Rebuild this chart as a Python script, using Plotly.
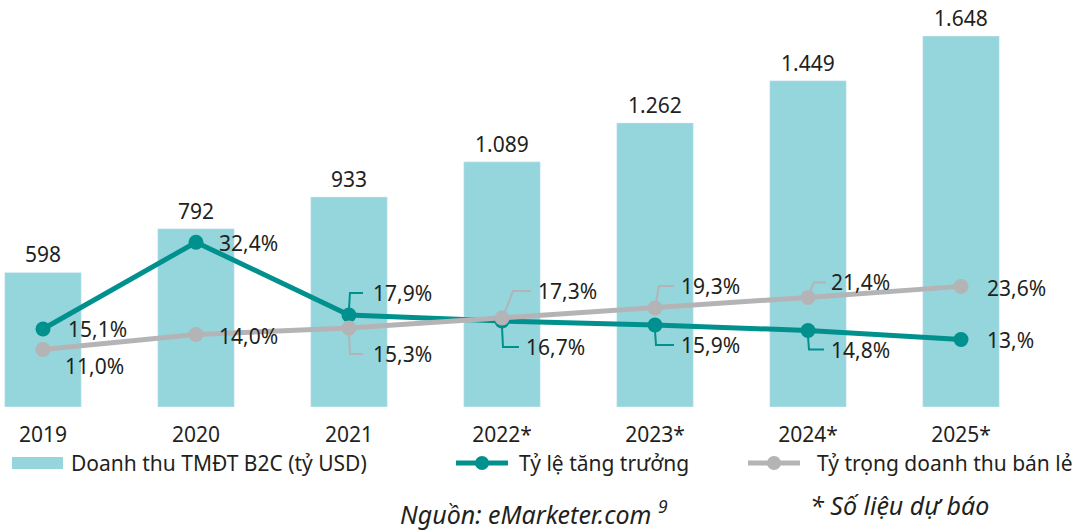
import plotly.graph_objects as go

# ---------------- data ----------------
years = ["2019", "2020", "2021", "2022*", "2023*", "2024*", "2025*"]
revenue = [598, 792, 933, 1089, 1262, 1449, 1648]          # Doanh thu TMĐT B2C (tỷ USD)
growth = [15.1, 32.4, 17.9, 16.7, 15.9, 14.8, 13.0]        # Tỷ lệ tăng trưởng (%)
growth_labels = ["15,1%", "32,4%", "17,9%", "16,7%", "15,9%", "14,8%", "13,%"]
share = [11.0, 14.0, 15.3, 17.3, 19.3, 21.4, 23.6]         # Tỷ trọng doanh thu bán lẻ (%)
share_labels = ["11,0%", "14,0%", "15,3%", "17,3%", "19,3%", "21,4%", "23,6%"]

series_names = ["Doanh thu TMĐT B2C (tỷ USD)", "Tỷ lệ tăng trưởng", "Tỷ trọng doanh thu bán lẻ"]

# ---------------- style ----------------
W, H = 1086, 530
T, B = 36, 123
PLOT_H = H - T - B
BAR_C = "#95d5dc"
TEAL = "#00918e"
GRAY = "#b4b4b7"
TXT = "#231f20"
FONT = "Noto Sans"
LBL = 21

# label offsets in pixels (dx, dy up-positive) and leader paths (pixels, relative to the marker)
growth_off = [(23, 0), (21, -1), (22, 22), (22, -26), (24, -20), (21, -19), (24, 0)]
growth_lead = [None, None, "M 0,6 L 1,22 L 14,22", "M 0,-6 L 1,-26 L 17,-26",
               "M 0,-6 L 1,-20 L 19,-20", "M 0,-6 L 1,-19 L 16,-19", None]
share_off = [(20, -16), (21, -1), (22, -26), (34, 27), (24, 22), (21, 15), (24, -2)]
share_lead = [None, None, "M 0,-6 L 1,-26 L 14,-26", "M 3,6 L 11,27 L 29,27",
              "M 1,6 L 4,22 L 19,22", "M 2,6 L 6,15 L 18,15", None]

xs = list(range(len(years)))

fig = go.Figure()
fig.add_trace(go.Bar(x=xs, y=revenue, name=series_names[0], marker_color=BAR_C,
                     width=0.5, yaxis="y", showlegend=False, hoverinfo="x+y"))
fig.add_trace(go.Scatter(x=xs, y=growth, name=series_names[1], yaxis="y2", mode="lines+markers",
                         line=dict(color=TEAL, width=5), marker=dict(size=15, color=TEAL),
                         showlegend=False))
fig.add_trace(go.Scatter(x=xs, y=share, name=series_names[2], yaxis="y2", mode="lines+markers",
                         line=dict(color=GRAY, width=5), marker=dict(size=15, color=GRAY),
                         showlegend=False))

ann = []
shapes = []

# bar value labels
for i, v in enumerate(revenue):
    ann.append(dict(x=i, y=v, xref="x", yref="y", text=f"{v:,}".replace(",", "."),
                    showarrow=False, yanchor="bottom", yshift=2,
                    font=dict(family=FONT, size=LBL, color=TXT)))

# line labels + leaders
for vals, labels, offs, leads, col in [(growth, growth_labels, growth_off, growth_lead, TEAL),
                                        (share, share_labels, share_off, share_lead, GRAY)]:
    for i, v in enumerate(vals):
        dx, dy = offs[i]
        ann.append(dict(x=i, y=v, xref="x", yref="y2", text=labels[i], showarrow=False,
                        xanchor="left", yanchor="middle", xshift=dx, yshift=dy,
                        font=dict(family=FONT, size=LBL, color=TXT)))
        if leads[i]:
            shapes.append(dict(type="path", xref="x", yref="y2", xsizemode="pixel",
                               ysizemode="pixel", xanchor=i, yanchor=v, path=leads[i],
                               line=dict(color=col, width=2), layer="above"))

# gray strips under each bar
for i in xs:
    shapes.append(dict(type="rect", xref="x", yref="y", x0=i - 0.25, x1=i + 0.25,
                       ysizemode="pixel", yanchor=0, y0=-6, y1=-10,
                       fillcolor=GRAY, line=dict(width=0)))


def px(x):
    return x / W


def py(y):
    return (H - B - y) / PLOT_H


# manual legend
LEG_Y = 463
shapes.append(dict(type="rect", xref="paper", yref="paper", x0=px(12), x1=px(63),
                   y0=py(LEG_Y + 6), y1=py(LEG_Y - 6), fillcolor=BAR_C, line=dict(width=0)))
for x0, col in [(456, TEAL), (748, GRAY)]:
    shapes.append(dict(type="line", xref="paper", yref="paper", x0=px(x0), x1=px(x0 + 52),
                       y0=py(LEG_Y), y1=py(LEG_Y), line=dict(color=col, width=5)))
    shapes.append(dict(type="circle", xref="paper", yref="paper", xsizemode="pixel",
                       ysizemode="pixel", xanchor=px(x0 + 26), yanchor=py(LEG_Y),
                       x0=-7, x1=7, y0=-7, y1=7, fillcolor=col, line=dict(width=0)))
for x0, name in zip([69, 517, 815], series_names):
    ann.append(dict(x=px(x0), y=py(LEG_Y), xref="paper", yref="paper", text=name,
                    showarrow=False, xanchor="left", yanchor="middle",
                    font=dict(family=FONT, size=LBL, color=TXT)))

# notes
ann.append(dict(x=px(398), y=py(512), xref="paper", yref="paper",
                text="<i>Nguồn: eMarketer.com <sup>9</sup></i>", showarrow=False,
                xanchor="left", yanchor="middle", font=dict(family=FONT, size=25, color=TXT)))
ann.append(dict(x=px(808), y=py(505), xref="paper", yref="paper",
                text="<i>* Số liệu dự báo</i>", showarrow=False,
                xanchor="left", yanchor="middle", font=dict(family=FONT, size=25, color=TXT)))

fig.update_layout(
    width=W, height=H, margin=dict(l=0, r=0, t=T, b=B),
    paper_bgcolor="white", plot_bgcolor="white",
    xaxis=dict(range=[-0.281, 6.817], tickvals=xs, ticktext=years, showgrid=False,
               zeroline=False, showline=False, ticks="", ticklabelstandoff=13,
               tickfont=dict(family=FONT, size=LBL, color=TXT)),
    yaxis=dict(range=[0, 1648], visible=False),
    yaxis2=dict(range=[-0.44, 73.5], overlaying="y", visible=False),
    annotations=ann, shapes=shapes, showlegend=False,
)

fig.write_html("out.html", config={"displayModeBar": False},
               post_script="document.body.style.margin='0';document.body.style.overflow='hidden';")
